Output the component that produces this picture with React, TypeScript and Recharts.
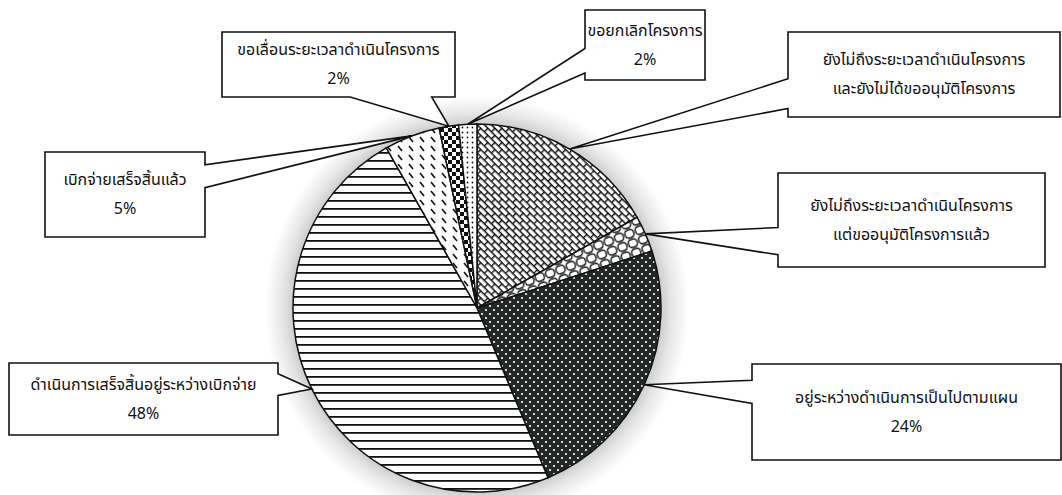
import React from 'react';
import { PieChart, Pie, Cell } from 'recharts';

// clockwise from 12 o'clock
const CATEGORIES = [
  ['ยังไม่ถึงระยะเวลาดำเนินโครงการ', 'และยังไม่ได้ขออนุมัติโครงการ'],
  ['ยังไม่ถึงระยะเวลาดำเนินโครงการ', 'แต่ขออนุมัติโครงการแล้ว'],
  ['อยู่ระหว่างดำเนินการเป็นไปตามแผน'],
  ['ดำเนินการเสร็จสิ้นอยู่ระหว่างเบิกจ่าย'],
  ['เบิกจ่ายเสร็จสิ้นแล้ว'],
  ['ขอเลื่อนระยะเวลาดำเนินโครงการ'],
  ['ขอยกเลิกโครงการ'],
];
const VALUES = [16.8, 3.2, 23.7, 48.1, 4.9, 1.7, 1.6];
const SHOW_PERCENT = [false, false, true, true, true, true, true];
const PATTERNS = ['p-weave', 'p-scallop', 'p-darkdots', 'p-hlines', 'p-dashes', 'p-checker', 'p-dots'];

// callout boxes: x, y, w, h, side the pointer leaves from, pointer base (fractions of that side)
const BOXES = [
  { x: 788, y: 32, w: 272, h: 85, side: 'left', b1: 0.55, b2: 0.9 },
  { x: 778, y: 173, w: 267, h: 94, side: 'left', b1: 0.58, b2: 0.87 },
  { x: 752, y: 364, w: 309, h: 96, side: 'left', b1: 0.17, b2: 0.41 },
  { x: 9, y: 363, w: 269, h: 72, side: 'right', b1: 0.15, b2: 0.45 },
  { x: 45, y: 152, w: 160, h: 85, side: 'right', b1: 0.15, b2: 0.42 },
  { x: 222, y: 32, w: 233, h: 65, side: 'bottom', b1: 0.55, b2: 0.9 },
  { x: 585, y: 10, w: 120, h: 70, side: 'left', b1: 0.55, b2: 0.9 },
];

const data = VALUES.map((v, i) => ({ name: CATEGORIES[i].join(' '), value: v }));

const RAD = Math.PI / 180;
const FONT = '"Noto Sans Thai", "Noto Sans", Tahoma, sans-serif';

const renderCallout = (props: any) => {
  const { cx, cy, midAngle, outerRadius, index, value } = props;
  const box = BOXES[index];
  const tx = cx + outerRadius * Math.cos(-midAngle * RAD);
  const ty = cy + outerRadius * Math.sin(-midAngle * RAD);
  const { x, y, w, h, side, b1, b2 } = box;
  let pts: number[][];
  if (side === 'left') {
    pts = [[x, y], [x + w, y], [x + w, y + h], [x, y + h], [x, y + h * b2], [tx, ty], [x, y + h * b1]];
  } else if (side === 'right') {
    pts = [[x, y], [x + w, y], [x + w, y + h * b1], [tx, ty], [x + w, y + h * b2], [x + w, y + h], [x, y + h]];
  } else {
    pts = [[x, y], [x + w, y], [x + w, y + h], [x + w * b2, y + h], [tx, ty], [x + w * b1, y + h], [x, y + h]];
  }
  const lines = [...CATEGORIES[index]];
  if (SHOW_PERCENT[index]) lines.push(`${Math.round(value)}%`);
  const lh = 29;
  const top = y + h / 2 - ((lines.length - 1) * lh) / 2;
  return (
    <g key={`callout-${index}`}>
      <polygon
        points={pts.map((p) => p.join(',')).join(' ')}
        fill="#fff"
        stroke="#111"
        strokeWidth={1.6}
        strokeLinejoin="miter"
      />
      {lines.map((t, k) => (
        <text
          key={k}
          x={x + w / 2}
          y={top + k * lh}
          textAnchor="middle"
          dominantBaseline="central"
          fontSize={16}
          fontFamily={FONT}
          fill="#111"
        >
          {t}
        </text>
      ))}
    </g>
  );
};

const Patterns = () => (
  <svg width={0} height={0} style={{ position: 'absolute' }}>
    <defs>
      <pattern id="p-weave" width={10} height={10} patternUnits="userSpaceOnUse" patternTransform="rotate(45)">
        <rect width={10} height={10} fill="#fff" />
        <path d="M0 0.7 H10 M0 5.7 H10 M0.7 0.7 V5.7 M5.7 5.7 V10.7" stroke="#111" strokeWidth={1.4} fill="none" />
      </pattern>
      <pattern id="p-scallop" width={11} height={10} patternUnits="userSpaceOnUse" patternTransform="rotate(-20)">
        <rect width={11} height={10} fill="#fff" />
        <rect x={1} y={1} width={9} height={8} rx={3.5} fill="none" stroke="#111" strokeWidth={1.4} />
      </pattern>
      <pattern id="p-darkdots" width={8} height={8} patternUnits="userSpaceOnUse">
        <rect width={8} height={8} fill="#232725" />
        <circle cx={2} cy={2} r={1.1} fill="#fff" />
        <circle cx={6} cy={6} r={1.1} fill="#fff" />
      </pattern>
      <pattern id="p-hlines" width={8} height={8} patternUnits="userSpaceOnUse">
        <rect width={8} height={8} fill="#fff" />
        <rect y={0} width={8} height={1.8} fill="#111" />
      </pattern>
      <pattern id="p-dashes" width={11} height={9} patternUnits="userSpaceOnUse">
        <rect width={11} height={9} fill="#fff" />
        <line x1={2} y1={2} x2={6} y2={7} stroke="#111" strokeWidth={1.6} />
      </pattern>
      <pattern id="p-checker" width={8} height={8} patternUnits="userSpaceOnUse">
        <rect width={8} height={8} fill="#fff" />
        <rect width={4} height={4} fill="#111" />
        <rect x={4} y={4} width={4} height={4} fill="#111" />
      </pattern>
      <pattern id="p-dots" width={5} height={5} patternUnits="userSpaceOnUse">
        <rect width={5} height={5} fill="#fff" />
        <circle cx={2.5} cy={2.5} r={0.9} fill="#111" />
      </pattern>
    </defs>
  </svg>
);

export default function App() {
  return (
    <div style={{ position: 'absolute', left: 0, top: 0, width: 1062, height: 495, background: '#fff', overflow: 'hidden' }}>
      <Patterns />
      <div
        style={{
          position: 'absolute',
          left: 0,
          top: 0,
          width: 1062,
          height: 495,
          background:
            'radial-gradient(circle at 477px 308px, #cdcdcd 0px, #cdcdcd 184px, #e6e6e6 195px, rgba(255,255,255,0) 212px)',
        }}
      />
      <div style={{ position: 'absolute', left: 0, top: 0 }}>
        <PieChart width={1062} height={495} margin={{ top: 0, right: 0, bottom: 0, left: 0 }}>
          <Pie
            data={data}
            dataKey="value"
            nameKey="name"
            cx={477}
            cy={308}
            outerRadius={184}
            startAngle={90}
            endAngle={-270}
            stroke="#111"
            strokeWidth={1.5}
            labelLine={false}
            label={renderCallout}
            isAnimationActive={false}
          >
            {data.map((_, i) => (
              <Cell key={`cell-${i}`} fill={`url(#${PATTERNS[i]})`} />
            ))}
          </Pie>
        </PieChart>
      </div>
    </div>
  );
}
